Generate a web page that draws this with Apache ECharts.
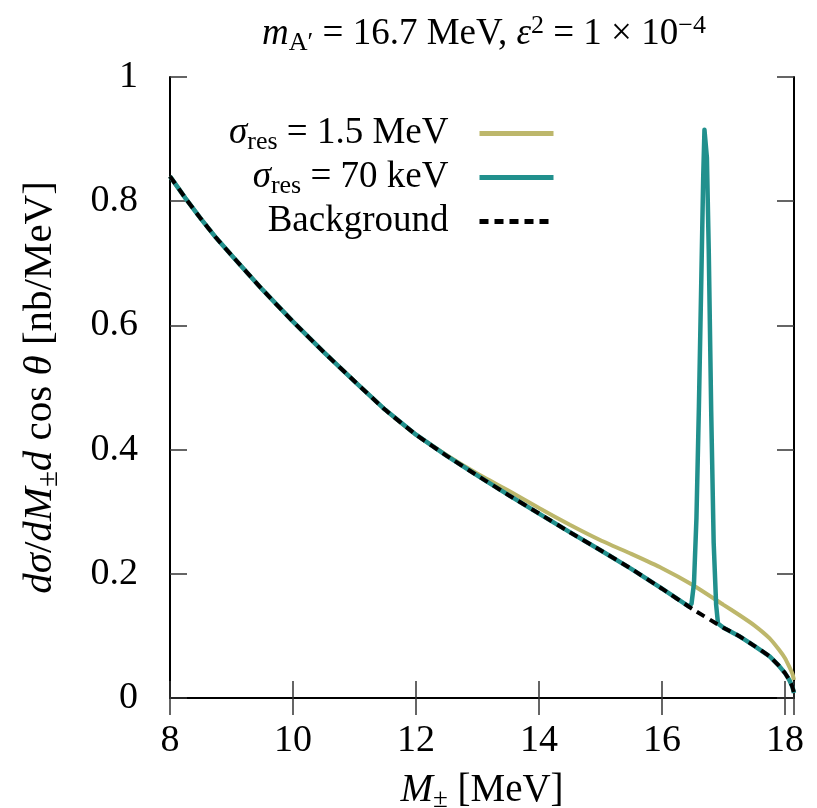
<!DOCTYPE html>
<html><head><meta charset="utf-8">
<script src="https://cdn.jsdelivr.net/npm/echarts@6/dist/echarts.min.js"></script>
<style>html,body{margin:0;padding:0;background:#fff}#c{width:817px;height:808px}</style>
</head><body><div id="c"></div>
<script>
// Background (dashed black)
const bgX = [8.0, 8.25, 8.5, 8.75, 9.0, 9.5, 10.0, 10.5, 11.0, 11.5, 12.0, 12.5, 13.0, 13.5, 14.0, 14.5, 15.0, 15.5, 16.0, 16.5, 17.0, 17.25, 17.5, 17.75, 17.9, 18.0, 18.07, 18.12, 18.146];
const bgY = [0.840, 0.805, 0.772, 0.741, 0.713, 0.658, 0.606, 0.557, 0.510, 0.464, 0.424, 0.390, 0.358, 0.327, 0.297, 0.267, 0.238, 0.208, 0.176, 0.143, 0.113, 0.100, 0.084, 0.067, 0.052, 0.040, 0.029, 0.018, 0.008];
// sigma_res = 1.5 MeV (khaki)
const wideX = [8.0, 8.25, 8.5, 8.75, 9.0, 9.5, 10.0, 10.5, 11.0, 11.5, 12.0, 12.5, 13.0, 13.5, 14.0, 14.5, 15.0, 15.5, 16.0, 16.5, 17.0, 17.25, 17.5, 17.75, 17.9, 18.0, 18.07, 18.12, 18.146];
const wideY = [0.840, 0.805, 0.772, 0.741, 0.713, 0.658, 0.606, 0.557, 0.510, 0.464, 0.424, 0.391, 0.361, 0.334, 0.306, 0.279, 0.254, 0.232, 0.209, 0.182, 0.150, 0.134, 0.117, 0.096, 0.078, 0.064, 0.050, 0.039, 0.029];
// sigma_res = 70 keV (teal)
const narrowX = [8.0, 8.25, 8.5, 8.75, 9.0, 9.5, 10.0, 10.5, 11.0, 11.5, 12.0, 12.5, 13.0, 13.5, 14.0, 14.5, 15.0, 15.5, 16.0, 16.44, 16.48, 16.52, 16.56, 16.60, 16.64, 16.67, 16.69, 16.71, 16.73, 16.76, 16.80, 16.84, 16.88, 16.91, 17.0, 17.25, 17.5, 17.75, 17.9, 18.0, 18.07, 18.12, 18.146];
const narrowY = [0.840, 0.805, 0.772, 0.741, 0.713, 0.658, 0.606, 0.557, 0.510, 0.464, 0.424, 0.390, 0.358, 0.327, 0.297, 0.267, 0.238, 0.208, 0.176, 0.147, 0.152, 0.185, 0.290, 0.470, 0.680, 0.840, 0.915, 0.915, 0.870, 0.720, 0.460, 0.250, 0.150, 0.120, 0.113, 0.100, 0.084, 0.067, 0.052, 0.040, 0.029, 0.018, 0.008];

const xTickValues = [8, 10, 12, 14, 16, 18];
const yTickLabels = ['0', '0.2', '0.4', '0.6', '0.8', '1'];
const seriesNames = ['wide', 'narrow', 'bg'];
const legendTexts = {
  wide: '{i|σ}{sub|res} = 1.5 MeV',
  narrow: '{i|σ}{sub|res} = 70 keV',
  bg: 'Background'
};
const colors = {wide: '#bdb76b', narrow: '#21908d', bg: '#000000'};

const F = "'Liberation Serif', 'DejaVu Serif', serif";
const XMIN = 8, XMAX = 18.146;
const pairs = (xs, ys) => xs.map((x, i) => [x, ys[i]]);

const baseRich = (fs) => ({
  i: {fontFamily: F, fontStyle: 'italic', fontSize: fs, color: '#000'},
  sub: {fontFamily: F, fontSize: Math.round(fs * 0.7), color: '#000', verticalAlign: 'bottom', padding: [Math.round(fs*0.45), 0, 0, 0]},
  sup: {fontFamily: F, fontSize: Math.round(fs * 0.7), color: '#000', verticalAlign: 'top', padding: [0, 0, Math.round(fs*0.35), 0]}
});

const frameLine = {show: true, lineStyle: {color: '#000', width: 2}};
const tickStyle = {show: true, inside: true, length: 17, lineStyle: {color: '#333', width: 1.5}};

const chart = echarts.init(document.getElementById('c'));
const option = {
  animation: false,
  backgroundColor: '#fff',
  title: {
    text: '{i|m}{sub|A′} = 16.7 MeV, {i|ε}{sup|2} = 1 × 10{sup|−4}',
    left: 479, top: 8, textAlign: 'center',
    textStyle: {fontFamily: F, fontSize: 37, fontWeight: 'normal', color: '#000', rich: baseRich(37)}
  },
  grid: {left: 170, right: 23, top: 77, bottom: 110, outerBoundsMode: 'none', containLabel: false},
  xAxis: [
    {type: 'value', min: XMIN, max: XMAX, interval: 2, position: 'bottom',
     axisLine: frameLine, axisTick: tickStyle, splitLine: {show: false},
     axisLabel: {margin: 24, fontFamily: F, fontSize: 38, color: '#000',
       formatter: v => xTickValues.indexOf(v) >= 0 ? String(v) : ''},
     name: '{i|M}{sub|±} [MeV]', nameLocation: 'middle', nameGap: 70,
     nameTextStyle: {fontFamily: F, fontSize: 39, color: '#000', rich: baseRich(39)}},
    {type: 'value', min: XMIN, max: XMAX, interval: 2, position: 'top',
     axisLine: frameLine, axisTick: tickStyle, splitLine: {show: false}, axisLabel: {show: false}}
  ],
  yAxis: [
    {type: 'value', min: 0, max: 1, interval: 0.2, position: 'left',
     axisLine: frameLine, axisTick: tickStyle, splitLine: {show: false},
     axisLabel: {margin: 32, fontFamily: F, fontSize: 38, color: '#000',
       formatter: v => yTickLabels[Math.round(v / 0.2)]},
     name: '{i|dσ}/{i|dM}{sub|±}{i|d} cos {i|θ} [nb/MeV]', nameLocation: 'middle', nameGap: 106,
     nameTextStyle: {fontFamily: F, fontSize: 41, color: '#000', rich: baseRich(41)}},
    {type: 'value', min: 0, max: 1, interval: 0.2, position: 'right',
     axisLine: frameLine, axisTick: tickStyle, splitLine: {show: false}, axisLabel: {show: false}}
  ],
  legend: seriesNames.map((n, k) => ({
    data: [n], orient: 'vertical', right: 256, top: 110 + k * 44, align: 'right',
    itemWidth: 74, itemHeight: 20, selectedMode: false,
    itemStyle: {opacity: 0},
    lineStyle: {width: 5},
    formatter: name => legendTexts[name],
    textStyle: {fontFamily: F, fontSize: 37, color: '#000', padding: [0, 26, 0, 0], rich: baseRich(37)}
  })),
  series: [
    {name: 'wide', type: 'line', data: pairs(wideX, wideY), showSymbol: false, symbol: 'none', smooth: 0.15,
     lineStyle: {color: colors.wide, width: 4}, itemStyle: {color: colors.wide}, z: 2},
    {name: 'narrow', type: 'line', data: pairs(narrowX, narrowY), showSymbol: false, symbol: 'none', smooth: false,
     lineStyle: {color: colors.narrow, width: 4.5, join: 'round'}, itemStyle: {color: colors.narrow}, z: 3},
    {name: 'bg', type: 'line', data: pairs(bgX, bgY), showSymbol: false, symbol: 'none', smooth: 0.15,
     lineStyle: {color: colors.bg, width: 4, type: [9, 6]}, itemStyle: {color: colors.bg}, z: 4}
  ]
};
chart.setOption(option);
</script></body></html>
